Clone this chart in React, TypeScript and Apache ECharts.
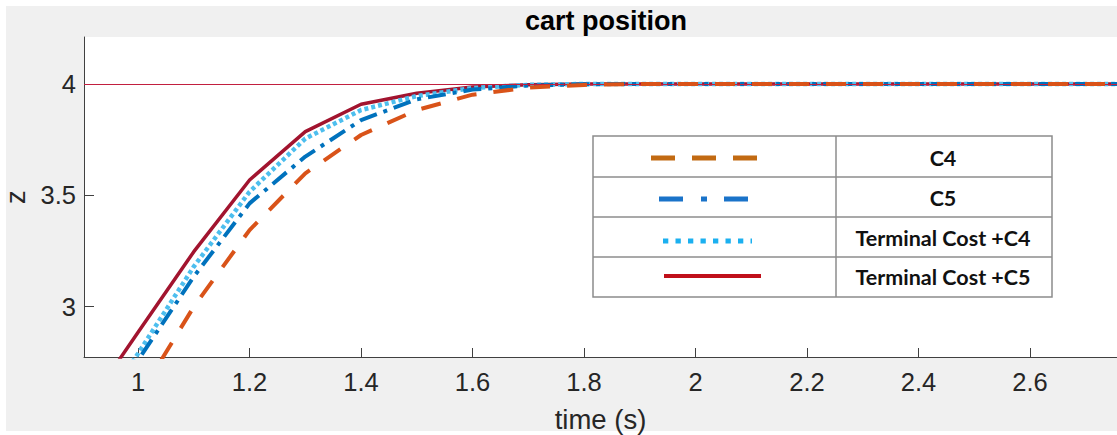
import React, { useEffect, useRef } from "react";
import * as echarts from "echarts";

const time = [0.9, 1.0, 1.1, 1.2, 1.3, 1.4, 1.5, 1.6, 1.7, 1.8, 1.9, 2.0, 2.2, 2.4, 2.6, 2.8];
const c4 = [2.2, 2.59, 3.0, 3.344, 3.599, 3.771, 3.883, 3.952, 3.984, 3.996, 4.0, 4.0, 4.0, 4.0, 4.0, 4.0];
const c5 = [2.38, 2.76, 3.135, 3.464, 3.674, 3.838, 3.931, 3.975, 3.993, 3.999, 4.0, 4.0, 4.0, 4.0, 4.0, 4.0];
const tcC4 = [2.41, 2.79, 3.18, 3.516, 3.755, 3.883, 3.946, 3.982, 3.996, 4.0, 4.0, 4.0, 4.0, 4.0, 4.0, 4.0];
const tcC5 = [2.52, 2.885, 3.247, 3.569, 3.786, 3.909, 3.958, 3.986, 3.997, 4.0, 4.0, 4.0, 4.0, 4.0, 4.0, 4.0];
const target = 4;
const xTicks = [1, 1.2, 1.4, 1.6, 1.8, 2, 2.2, 2.4, 2.6];
const yTicks = [3, 3.5, 4];
const legendLabels = ["C4", "C5", "Terminal Cost +C4", "Terminal Cost +C5"];

const pair = (ys: number[]) => time.map((t, i) => [t, ys[i]]);

export default function App() {
  const ref = useRef<HTMLDivElement>(null);
  useEffect(() => {
    if (!ref.current) return;
    const chart = echarts.init(ref.current, undefined, { renderer: "svg" });
    const tickFont = { fontFamily: "Liberation Sans", fontSize: 25.5, color: "#262626" };
    const axisCol = "#404040";
    // legend table geometry
    const L = 593, R = 1052, T = 136, B = 297, MID = 836;
    const rows = [136, 177, 217, 257, 297];
    const textY = [158, 198, 238, 277];
    const lineY = [158, 199, 241, 276];
    const legendFont = { fontFamily: "Lato", fontWeight: "bold", fontSize: 21.5, fill: "#111" };
    const graphic: any[] = [
      { type: "rect", z: 100, shape: { x: L, y: T, width: R - L, height: B - T }, style: { fill: "#fff", stroke: "#8c8c8c", lineWidth: 1.5 } },
      { type: "line", z: 101, shape: { x1: MID, y1: T, x2: MID, y2: B }, style: { stroke: "#8c8c8c", lineWidth: 1.5 } },
      ...rows.slice(1, 4).map((y) => ({ type: "line", z: 101, shape: { x1: L, y1: y, x2: R, y2: y }, style: { stroke: "#8c8c8c", lineWidth: 1.5 } })),
      ...legendLabels.map((s, i) => ({ type: "text", z: 102, style: { ...legendFont, text: s, x: 943, y: textY[i], align: "center", verticalAlign: "middle" } })),
      { type: "line", z: 102, shape: { x1: 651, y1: lineY[0], x2: 757, y2: lineY[0] }, style: { stroke: "#C26A12", lineWidth: 5, lineDash: [24, 17] } },
      { type: "line", z: 102, shape: { x1: 659, y1: lineY[1], x2: 748, y2: lineY[1] }, style: { stroke: "#1a73c9", lineWidth: 5, lineDash: [24, 18, 6, 17] } },
      { type: "line", z: 102, shape: { x1: 663, y1: lineY[2], x2: 752, y2: lineY[2] }, style: { stroke: "#1bb0f0", lineWidth: 5, lineDash: [5.3, 7.2] } },
      { type: "line", z: 102, shape: { x1: 664, y1: lineY[3], x2: 761, y2: lineY[3] }, style: { stroke: "#c00f1a", lineWidth: 4 } },
    ];
    chart.setOption({
      animation: false,
      backgroundColor: "transparent",
      title: {
        text: "cart position",
        left: 520,
        top: 2,
        textStyle: { fontFamily: "Liberation Sans", fontWeight: "bold", fontSize: 27, color: "#000" },
      },
      grid: { left: 84, top: 37, right: 0, bottom: 78, show: true, backgroundColor: "#fff", borderWidth: 0, outerBoundsMode: "none", containLabel: false },
      xAxis: {
        type: "value",
        min: 0.903,
        max: 2.756,
        name: "time (s)",
        nameLocation: "middle",
        nameGap: 48,
        nameTextStyle: { fontFamily: "Liberation Sans", fontSize: 27.5, color: "#262626" },
        axisLine: { show: true, lineStyle: { color: axisCol, width: 1 } },
        axisTick: { show: true, inside: true, length: 9, lineStyle: { color: axisCol }, customValues: xTicks },
        axisLabel: { ...tickFont, margin: 12, customValues: xTicks },
        splitLine: { show: false },
      },
      yAxis: {
        type: "value",
        min: 2.774,
        max: 4.211,
        name: "z",
        nameLocation: "middle",
        nameGap: 54,
        nameTextStyle: { fontFamily: "Liberation Sans", fontSize: 27.5, color: "#262626" },
        axisLine: { show: true, lineStyle: { color: axisCol, width: 1 } },
        axisTick: { show: true, inside: true, length: 10, lineStyle: { color: axisCol }, customValues: yTicks },
        axisLabel: { ...tickFont, margin: 8, customValues: yTicks },
        splitLine: { show: false },
      },
      series: [
        {
          type: "line",
          name: "target",
          data: [],
          z: 1,
          markLine: {
            silent: true,
            symbol: "none",
            label: { show: false },
            lineStyle: { color: "#c21f3f", width: 1, type: "solid" },
            data: [{ yAxis: target }],
          },
        },
        { type: "line", name: legendLabels[3], data: pair(tcC5), showSymbol: false, z: 2, lineStyle: { color: "#A2142F", width: 3.5, type: "solid" } },
        { type: "line", name: legendLabels[2], data: pair(tcC4), showSymbol: false, z: 3, lineStyle: { color: "#4DBEEE", width: 4.5, type: [4, 3] } },
        { type: "line", name: legendLabels[1], data: pair(c5), showSymbol: false, z: 4, lineStyle: { color: "#0072BD", width: 4, type: [18, 7, 4, 7] } },
        { type: "line", name: legendLabels[0], data: pair(c4), showSymbol: false, z: 5, lineStyle: { color: "#D95319", width: 4, type: [20, 17] } },
      ],
      graphic,
    });
    return () => chart.dispose();
  }, []);
  return (
    <div style={{ position: "absolute", left: 0, top: 0, width: 1117, height: 435, background: "#fff", overflow: "hidden" }}>
      <div style={{ position: "absolute", left: 6, top: 6, width: 1111, height: 425, background: "#f0f0f0" }} />
      <div ref={ref} style={{ position: "absolute", left: 0, top: 0, width: 1117, height: 435 }} />
    </div>
  );
}
